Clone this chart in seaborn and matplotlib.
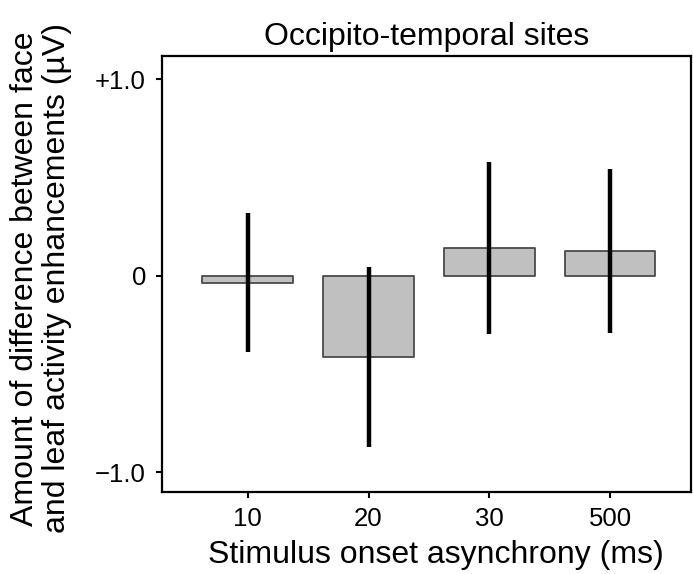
import matplotlib
matplotlib.use("Agg")
import matplotlib.pyplot as plt
import seaborn as sns
import pandas as pd

# Stimulus onset asynchrony conditions and face-minus-leaf differences (µV)
soa_labels = ["10", "20", "30", "500"]
mean_diff = [-0.035, -0.415, 0.14, 0.125]
err_half = [0.355, 0.457, 0.437, 0.419]

y_ticks = [1.0, 0.0, -1.0]
y_tick_labels = ["+1.0", "0", "\u22121.0"]

sns.set_style("ticks")
plt.rcParams["font.family"] = ["Liberation Sans", "DejaVu Sans"]
plt.rcParams["text.color"] = "black"
plt.rcParams["axes.labelcolor"] = "black"

df = pd.DataFrame({"soa": soa_labels, "diff": mean_diff})

fig = plt.figure(figsize=(6.93, 5.74), dpi=100)
ax = fig.add_axes([162 / 693, 82 / 574, 529 / 693, 436 / 574])

sns.barplot(data=df, x="soa", y="diff", order=soa_labels, errorbar=None,
            color="#c0c0c0", edgecolor="#4a4a4a", linewidth=1.3,
            width=0.75, saturation=1, ax=ax)
for p in ax.patches:
    p.set_joinstyle("round")

ax.errorbar(x=list(range(len(soa_labels))), y=mean_diff, yerr=err_half,
            fmt="none", ecolor="black", elinewidth=3.2, capsize=0, zorder=5)

ax.set_xlim(-0.71, 3.67)
ax.set_ylim(-1.10, 1.117)
ax.set_yticks(y_ticks)
ax.set_yticklabels(y_tick_labels)

for side in ["left", "right", "top", "bottom"]:
    ax.spines[side].set_visible(True)
    ax.spines[side].set_linewidth(1.6)
    ax.spines[side].set_color("black")

ax.tick_params(axis="both", direction="out", length=4.5, width=1.5,
               labelsize=18.5, colors="black", pad=6)
ax.tick_params(axis="y", pad=7)

ax.set_xlabel("Stimulus onset asynchrony (ms)", fontsize=23)
ax.xaxis.set_label_coords(0.517, -0.11)
ax.set_ylabel("Amount of difference between face\nand leaf activity enhancements (\u00b5V)",
              fontsize=23, linespacing=1.08)
ax.yaxis.set_label_coords(-0.17, 0.49)
ax.set_title("Occipito-temporal sites", fontsize=23, pad=8, color="black")

fig.savefig("out.png", dpi=100)
